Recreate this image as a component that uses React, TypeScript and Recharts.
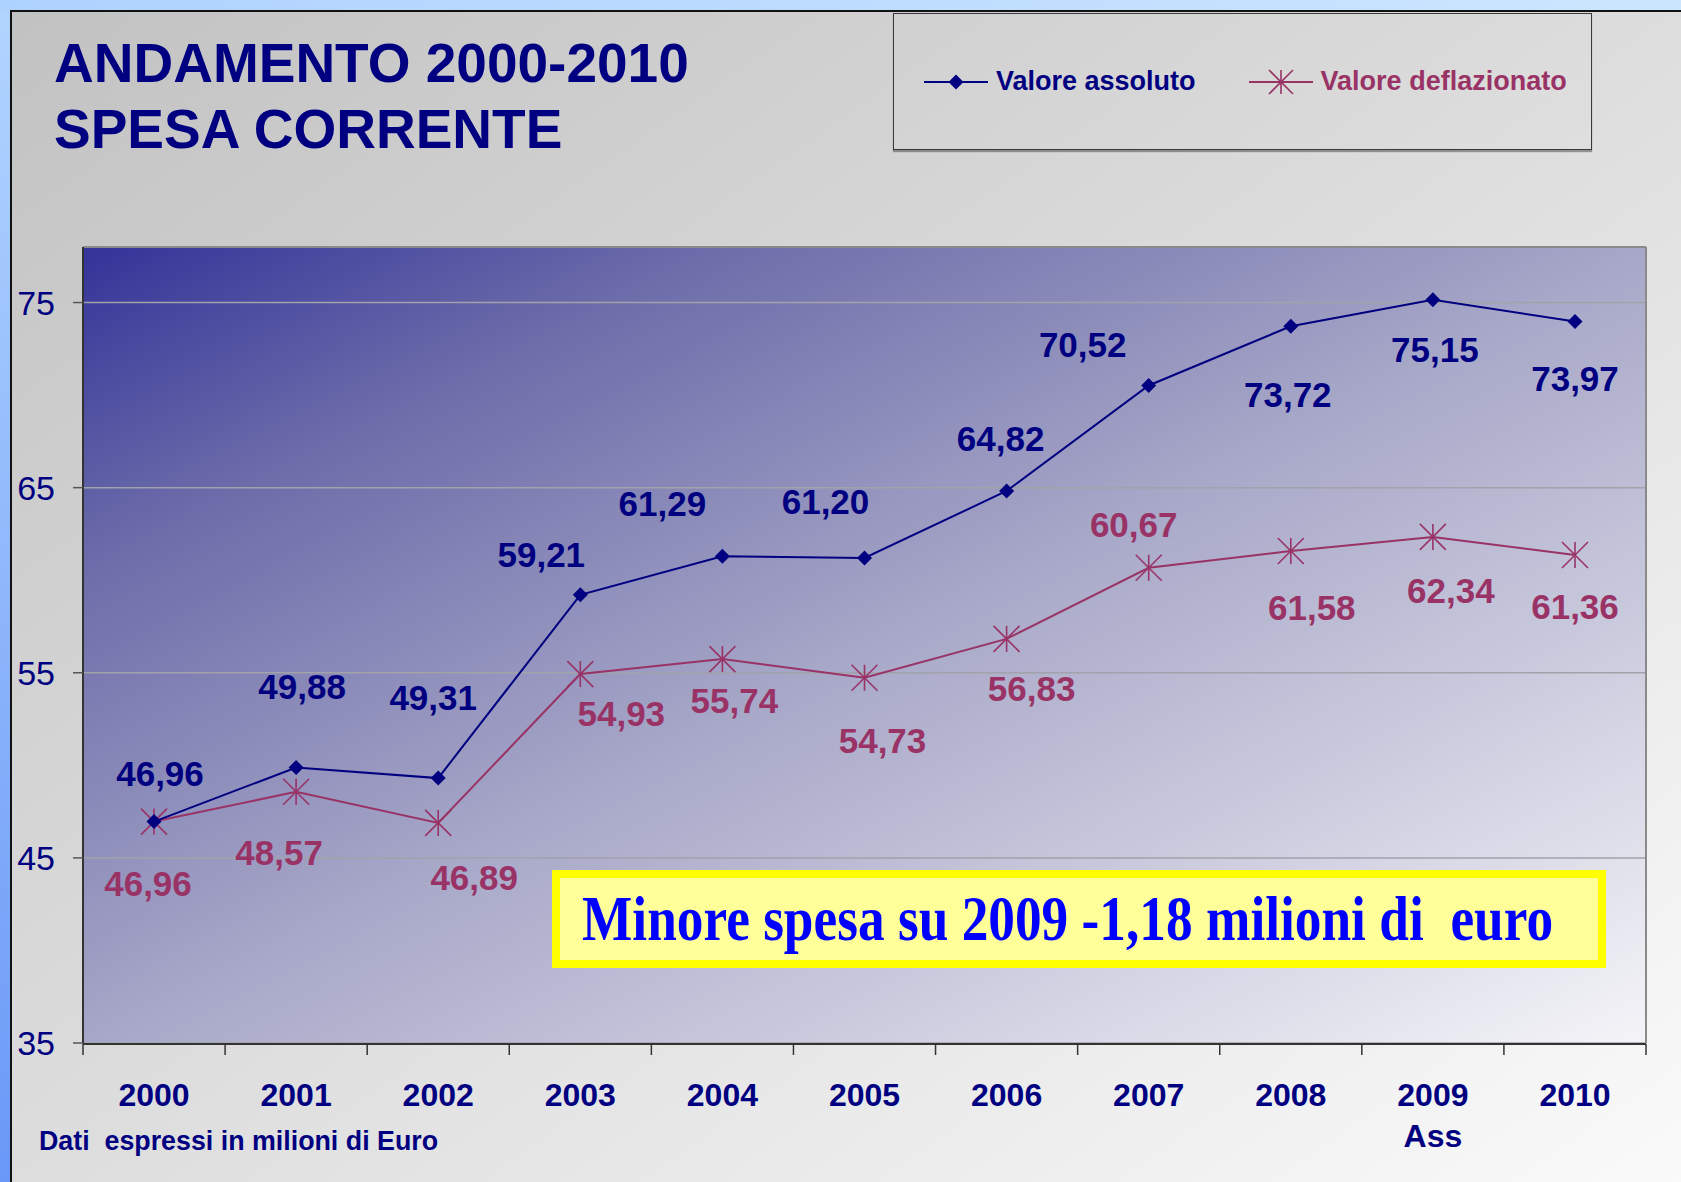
import { LineChart, Line, XAxis, YAxis, CartesianGrid, Legend, LabelList } from 'recharts';

const years = ['2000', '2001', '2002', '2003', '2004', '2005', '2006', '2007', '2008', '2009', '2010'];
const yearNotes = ['', '', '', '', '', '', '', '', '', 'Ass', ''];
const valoreAssoluto = [46.96, 49.88, 49.31, 59.21, 61.29, 61.2, 64.82, 70.52, 73.72, 75.15, 73.97];
const valoreDeflazionato = [46.96, 48.57, 46.89, 54.93, 55.74, 54.73, 56.83, 60.67, 61.58, 62.34, 61.36];
const yTicks = [35, 45, 55, 65, 75];
const categoryEdges = [0, 1, 2, 3, 4, 5, 6, 7, 8, 9, 10, 11];

// hand placed label offsets (dx, dy) from the point, like the original slide
const assolutoLabelPos = [
  [6, -48], [6, -81], [-5, -81], [-39, -40], [-60, -53], [-39, -57],
  [-6, -53], [-66, -41], [-3, 68], [2, 50], [0, 57],
];
const deflazionatoLabelPos = [
  [-6, 62], [-17, 61], [36, 55], [41, 39], [12, 41], [18, 63],
  [25, 50], [-15, -43], [21, 56], [18, 54], [0, 51],
];

const NAVY = '#000080';
const PLUM = '#993366';
const SANS = '"Liberation Sans", Arial, sans-serif';
const SERIF = '"Liberation Serif", "Times New Roman", serif';

const data = years.map((year, i) => ({
  year,
  assoluto: valoreAssoluto[i],
  deflazionato: valoreDeflazionato[i],
}));

const fmt = (v: number) => v.toFixed(2).replace('.', ',');

function Diamond({ cx, cy, size = 7.5 }: any) {
  return (
    <polygon
      points={`${cx},${cy - size} ${cx + size},${cy} ${cx},${cy + size} ${cx - size},${cy}`}
      fill={NAVY}
    />
  );
}

function Star({ cx, cy, size = 13 }: any) {
  return (
    <g stroke={PLUM} strokeWidth={1.6}>
      <line x1={cx} y1={cy - size} x2={cx} y2={cy + size} />
      <line x1={cx - size} y1={cy - size} x2={cx + size} y2={cy + size} />
      <line x1={cx - size} y1={cy + size} x2={cx + size} y2={cy - size} />
    </g>
  );
}

const makeLabel = (offsets: number[][], color: string) => (props: any) => {
  const { x, y, value, index } = props;
  const [dx, dy] = offsets[index] || [0, 0];
  return (
    <text
      x={x + dx}
      y={y + dy}
      dy="0.36em"
      textAnchor="middle"
      fill={color}
      fontFamily={SANS}
      fontWeight="bold"
      fontSize={35}
    >
      {fmt(value)}
    </text>
  );
};

// tick y arrives at plot bottom + 1 (second bottom axis)
function YearTick(props: any) {
  const { x, y, payload } = props;
  const i = years.indexOf(payload.value);
  return (
    <g>
      <text x={x} y={y + 63} textAnchor="middle" fill={NAVY} fontFamily={SANS} fontWeight="bold" fontSize={32}>
        {payload.value}
      </text>
      {yearNotes[i] ? (
        <text x={x} y={y + 104} textAnchor="middle" fill={NAVY} fontFamily={SANS} fontWeight="bold" fontSize={32}>
          {yearNotes[i]}
        </text>
      ) : null}
    </g>
  );
}

function renderLegend(props: any) {
  const items = props.payload || [];
  return (
    <div
      style={{
        width: 699,
        height: 137,
        boxSizing: 'border-box',
        border: '1px solid #3a3a3a',
        boxShadow: '0 2px 1px rgba(0,0,0,0.35)',
        display: 'flex',
        alignItems: 'center',
        fontFamily: SANS,
        fontWeight: 'bold',
        fontSize: 27,
      }}
    >
      {items.map((it: any, i: number) => {
        const color = it.dataKey === 'assoluto' ? NAVY : PLUM;
        return (
          <div key={i} style={{ display: 'flex', alignItems: 'center', marginLeft: i === 0 ? 30 : 53 }}>
            <svg width={64} height={30}>
              <line x1={0} y1={15} x2={64} y2={15} stroke={color} strokeWidth={2} />
              {it.dataKey === 'assoluto' ? <Diamond cx={32} cy={15} /> : <Star cx={32} cy={15} size={12} />}
            </svg>
            <span style={{ color, marginLeft: 8 }}>{it.value}</span>
          </div>
        );
      })}
    </div>
  );
}

export default function App() {
  return (
    <div
      style={{
        position: 'absolute',
        left: 0,
        top: 0,
        width: 1681,
        height: 1182,
        overflow: 'hidden',
        background: 'linear-gradient(to bottom, #b2d5ff, #6a98f7)',
      }}
    >
      <div
        style={{
          position: 'absolute',
          left: 0,
          top: 0,
          width: 1681,
          height: 11,
          background: 'linear-gradient(to right, #aed2ff, #cde6ff)',
        }}
      />
      <div
        style={{
          position: 'absolute',
          left: 10,
          top: 10,
          right: 0,
          bottom: 0,
          borderLeft: '2px solid #111',
          borderTop: '2px solid #111',
          background: 'linear-gradient(to bottom right, #c2c2c2, #dddddd 50%, #fafafa)',
        }}
      />

      <div
        style={{
          position: 'absolute',
          left: 54,
          top: 30,
          fontFamily: SANS,
          fontWeight: 'bold',
          fontSize: 55,
          lineHeight: '66px',
          color: NAVY,
        }}
      >
        ANDAMENTO 2000-2010
        <br />
        SPESA CORRENTE
      </div>

      <div style={{ position: 'absolute', left: 0, top: 0 }}>
        <LineChart width={1681} height={1182} data={data} margin={{ top: 246, right: 34, bottom: 137, left: 0 }}>
          <defs>
            <linearGradient id="plotBg" x1="0" y1="0" x2="1" y2="1">
              <stop offset="0" stopColor="#333399" />
              <stop offset="0.2" stopColor="#6c6caa" />
              <stop offset="0.5" stopColor="#a7a7c8" />
              <stop offset="1" stopColor="#f4f4f8" />
            </linearGradient>
          </defs>
          <CartesianGrid
            xAxisId="cat"
            yAxisId="left"
            vertical={false}
            fill="url(#plotBg)"
            stroke="#a2a2aa"
            strokeWidth={1.5}
          />
          {/* tick marks between the categories */}
          <XAxis
            xAxisId="edges"
            type="number"
            dataKey={() => 0}
            domain={[0, 11]}
            ticks={categoryEdges}
            allowDataOverflow
            height={1}
            interval={0}
            tickSize={11}
            tickFormatter={() => ''}
            tickLine={{ stroke: '#333', strokeWidth: 1.5 }}
            axisLine={{ stroke: '#333', strokeWidth: 2 }}
          />
          <XAxis
            xAxisId="cat"
            dataKey="year"
            scale="point"
            padding={{ left: 71, right: 71 }}
            height={1}
            interval={0}
            tickSize={0}
            tickMargin={0}
            axisLine={false}
            tickLine={false}
            tick={<YearTick />}
          />
          <XAxis
            xAxisId="top"
            orientation="top"
            type="number"
            dataKey={() => 0}
            domain={[0, 1]}
            allowDataOverflow
            height={1}
            tick={false}
            tickLine={false}
            axisLine={{ stroke: '#8a8a8a', strokeWidth: 2 }}
          />
          <YAxis
            yAxisId="left"
            width={83}
            domain={[35, 78]}
            ticks={yTicks}
            allowDataOverflow
            tickSize={10}
            tickMargin={18}
            tick={{ fill: NAVY, fontSize: 34, fontFamily: SANS }}
            tickLine={{ stroke: '#555', strokeWidth: 1.5 }}
            axisLine={{ stroke: '#333', strokeWidth: 2 }}
          />
          <YAxis
            yAxisId="right"
            orientation="right"
            width={1}
            domain={[35, 78]}
            tick={false}
            tickLine={false}
            axisLine={{ stroke: '#8a8a8a', strokeWidth: 2 }}
          />
          <Legend
            layout="horizontal"
            verticalAlign="middle"
            align="center"
            content={renderLegend}
            wrapperStyle={{ position: 'absolute', left: 893, top: 13, width: 699, height: 137 }}
          />
          <Line
            xAxisId="cat"
            yAxisId="left"
            dataKey="deflazionato"
            name="Valore deflazionato"
            stroke={PLUM}
            strokeWidth={2}
            dot={(p: any) => <Star key={`s${p.index}`} cx={p.cx} cy={p.cy} />}
            activeDot={false}
            isAnimationActive={false}
          >
            <LabelList dataKey="deflazionato" content={makeLabel(deflazionatoLabelPos, PLUM)} />
          </Line>
          <Line
            xAxisId="cat"
            yAxisId="left"
            dataKey="assoluto"
            name="Valore assoluto"
            stroke={NAVY}
            strokeWidth={2}
            dot={(p: any) => <Diamond key={`d${p.index}`} cx={p.cx} cy={p.cy} />}
            activeDot={false}
            isAnimationActive={false}
          >
            <LabelList dataKey="assoluto" content={makeLabel(assolutoLabelPos, NAVY)} />
          </Line>
        </LineChart>
      </div>

      <div
        style={{
          position: 'absolute',
          left: 552,
          top: 870,
          width: 1054,
          height: 98,
          boxSizing: 'border-box',
          border: '8px solid #ffff00',
          background: '#ffff99',
        }}
      />
      <div
        style={{
          position: 'absolute',
          left: 582,
          top: 887,
          fontFamily: SERIF,
          fontWeight: 'bold',
          fontSize: 64,
          lineHeight: '64px',
          color: '#0000ff',
          whiteSpace: 'pre',
          transform: 'scaleX(0.833)',
          transformOrigin: 'left center',
        }}
      >
        {'Minore spesa su 2009 -1,18 milioni di  euro'}
      </div>

      <div
        style={{
          position: 'absolute',
          left: 39,
          top: 1128,
          fontFamily: SANS,
          fontWeight: 'bold',
          fontSize: 26.8,
          lineHeight: '26px',
          color: NAVY,
          whiteSpace: 'pre',
        }}
      >
        {'Dati  espressi in milioni di Euro'}
      </div>
    </div>
  );
}
